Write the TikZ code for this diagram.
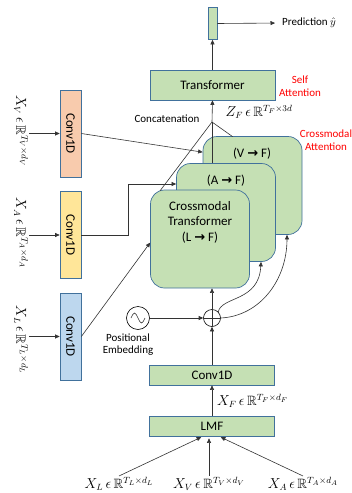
\documentclass[tikz,border=0pt]{standalone}
\usepackage{amssymb}
\usepackage{fontspec}
\setmainfont{Carlito}
\newfontfamily\arrowfont{DejaVu Sans}
\usetikzlibrary{arrows.meta,calc}
\definecolor{gfill}{HTML}{C5E0B4}
\definecolor{bline}{HTML}{41719C}
\definecolor{ofill}{HTML}{F8CBAD}
\definecolor{yfill}{HTML}{FFE699}
\definecolor{bfill}{HTML}{BDD7EE}
\definecolor{redtxt}{HTML}{FF0000}
\newcommand{\rarr}{{\arrowfont\bfseries →}}
\begin{document}
\begin{tikzpicture}[x=1pt,y=-1pt,
  gbox/.style={draw=bline,fill=gfill,line width=0.7pt,inner sep=0pt,font=\fontsize{13}{15}\selectfont},
  cmbox/.style={gbox,rounded corners=14pt,minimum width=99pt,minimum height=98pt},
  vbox/.style={draw=bline,line width=0.7pt,inner sep=0pt,minimum width=21pt,minimum height=87pt,font=\fontsize{13}{15}\selectfont},
  boxlab/.style={inner sep=0pt,align=center,font=\fontsize{13}{15.5}\selectfont},
  arr/.style={-{Triangle[length=4.5pt,width=4pt]},line width=0.6pt,draw=black!80},
  ln/.style={line width=0.6pt,draw=black!80},
  mlab/.style={font=\fontsize{13.5}{15}\selectfont,inner sep=1pt},
  small/.style={font=\fontsize{11}{12.5}\selectfont,inner sep=0pt,align=center},
  redlab/.style={small,text=redtxt},
]
\useasboundingbox (0,0) rectangle (352,493);

% top output and transformer
\node[gbox,minimum width=9pt,minimum height=32pt] (out) at (212.5,23.5) {};
\node[gbox,minimum width=125pt,minimum height=30pt] (tr) at (212.5,85) {Transformer};
\node[small,anchor=west] (pred) at (282,23) {Prediction $\hat{y}$};
\node[redlab] (sa) at (300,86) {Self\\Attention};

% crossmodal boxes
\node[cmbox] (V) at (252.5,185.5) {};
\node[cmbox] (A) at (226,212.5) {};
\node[cmbox] (L) at (200,239) {};
\node[boxlab] (Vl) at (252,154) {(V \rarr\ F)};
\node[boxlab] (Al) at (226,181) {(A \rarr\ F)};
\node[boxlab] (Ll) at (200,222) {Crossmodal\\Transformer\\(L \rarr\ F)};
\node[redlab] (cma) at (326,140) {Crossmodal\\Attention};

% left conv1d
\node[vbox,fill=ofill] (cvV) at (70.5,133.5) {\rotatebox{-90}{Conv1D}};
\node[vbox,fill=yfill] (cvA) at (70.5,235) {\rotatebox{-90}{Conv1D}};
\node[vbox,fill=bfill] (cvL) at (70.5,336.5) {\rotatebox{-90}{Conv1D}};
\node[mlab] (xvl) at (21,131) {\rotatebox{-90}{$X_V\,\epsilon\,\mathbb{R}^{T_V\times d_V}$}};
\node[mlab] (xal) at (21,233) {\rotatebox{-90}{$X_A\,\epsilon\,\mathbb{R}^{T_A\times d_A}$}};
\node[mlab] (xll) at (21,340) {\rotatebox{-90}{$X_L\,\epsilon\,\mathbb{R}^{T_L\times d_L}$}};
\draw[arr] (xvl.east |- cvV.west) -- (cvV.west);
\draw[arr] (xal.east |- cvA.west) -- (cvA.west);
\draw[arr] (xll.east |- cvL.west) -- (cvL.west);

% bottom
\node[gbox,minimum width=125pt,minimum height=20pt] (cb) at (212,375) {Conv1D};
\node[gbox,minimum width=125pt,minimum height=20pt] (lmf) at (212,426) {LMF};
\node[mlab] (xl) at (119,484) {$X_L\,\epsilon\,\mathbb{R}^{T_L\times d_L}$};
\node[mlab] (xv) at (209,484) {$X_V\,\epsilon\,\mathbb{R}^{T_V\times d_V}$};
\node[mlab] (xa) at (303,484) {$X_A\,\epsilon\,\mathbb{R}^{T_A\times d_A}$};
\node[mlab,anchor=west] (xf) at (216,401) {$X_F\,\epsilon\,\mathbb{R}^{T_F\times d_F}$};
\draw[arr,shorten >=2pt] (xl.north) -- ([xshift=-9pt]lmf.south);
\draw[arr,shorten >=2pt] (xv.north) -- (xv.north |- lmf.south);
\draw[arr,shorten >=2pt] (xa.north) -- ([xshift=7pt]lmf.south);
\draw[arr] (lmf.north) -- (cb.south);

% positional embedding and sum
\node[draw,circle,minimum size=17pt,inner sep=0pt,line width=0.6pt] (plus) at (212,318) {};
\draw[ln] (plus.north) -- (plus.south) (plus.west) -- (plus.east);
\node[draw,circle,minimum size=23pt,inner sep=0pt,line width=0.6pt] (pe) at (138,318) {};
\draw[ln] ($(pe.center)+(-7,0)$) sin ++(3.5,-5) cos ++(3.5,5) sin ++(3.5,5) cos ++(3.5,-5);
\node[small] (pel) at (128,344.5) {Positional\\Embedding};
\draw[arr] (pe.east) -- (plus.west);
\draw[arr] (cb.north) -- (plus.south);
\draw[arr] (plus.north) -- (plus.north |- L.south);
\draw[arr] (plus.north east) .. controls (222,296) and (259,302) .. ($(A.south)+(35,0)$);
\draw[arr] (plus.east) .. controls (260,316) and (287,280) .. ($(V.south)+(34.5,0)$);

% conv to crossmodal
\coordinate (ab) at (128,184);
\draw[arr] (cvV.east) -- ($(V.north west)+(0,16)$);
\draw[arr] (cvA.east) -| (ab) -- (A.west |- ab);
\draw[arr] (cvL.east) -- ($(L.north west)+(0,53)$);

% concatenation
\coordinate (cc) at (212,122);
\draw[arr] (cc) -- (tr.south);
\draw[ln] (cc) -- (A.north -| cc);
\draw[ln] (cc) -- ($(L.north west)+(10,1)$);
\draw[ln] (cc) -- ($(V.north west)+(30,0.5)$);
\node[small] (cat) at (167,119) {Concatenation};
\node[mlab] (zf) at (259,112) {$Z_F\,\epsilon\,\mathbb{R}^{T_F\times 3d}$};

% top arrows
\draw[arr] (tr.north) -- (out.south);
\draw[arr,shorten >=7pt] (out.east) -- (pred.west);
\end{tikzpicture}
\end{document}
